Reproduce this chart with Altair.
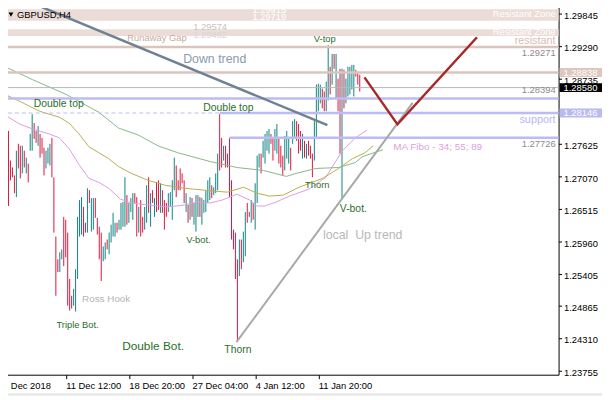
import altair as alt
import pandas as pd

# ---------------- price bars (H4) ----------------
highs = [
    1.27503, 1.28395, 1.28126, 1.27840, 1.27335, 1.27217, 1.27082, 1.27503, 1.27621, 1.27587,
    1.27587, 1.27503, 1.27385, 1.27284, 1.27789, 1.28126, 1.27974, 1.27840, 1.27924, 1.27789,
    1.27722, 1.27554, 1.27503, 1.27554, 1.27621, 1.27722, 1.27049, 1.26039, 1.25651, 1.25769,
    1.25820, 1.26375, 1.26325, 1.26106, 1.25315, 1.25029, 1.25146, 1.25483, 1.26375, 1.26661,
    1.26712, 1.26544, 1.26274, 1.26863, 1.26830, 1.26695, 1.26695, 1.26695, 1.26358, 1.26207,
    1.26106, 1.25870, 1.25938, 1.25988, 1.26106, 1.26241, 1.26443, 1.26274, 1.26274, 1.26325,
    1.26611, 1.26628, 1.27049, 1.26746, 1.26611, 1.26695, 1.26779, 1.26779, 1.26712, 1.26544,
    1.26661, 1.26375, 1.26544, 1.26914, 1.27049, 1.26779, 1.26830, 1.26695, 1.26964, 1.26998,
    1.26948, 1.26830, 1.26661, 1.26611, 1.26779, 1.26796, 1.26998, 1.27385, 1.27251, 1.26998,
    1.27200, 1.27116, 1.26998, 1.26779, 1.26577, 1.26712, 1.26695, 1.26611, 1.26746, 1.26746,
    1.26712, 1.26695, 1.26661, 1.26830, 1.26998, 1.27049, 1.26914, 1.26880, 1.27116, 1.27453,
    1.28126, 1.27722, 1.27587, 1.27587, 1.27453, 1.27722, 1.26998, 1.26156, 1.26106, 1.25651,
    1.25988, 1.25988, 1.26123, 1.26459, 1.26611, 1.26459, 1.26661, 1.26611, 1.26948, 1.27419,
    1.27453, 1.27453, 1.27671, 1.27789, 1.27840, 1.27873, 1.27789, 1.27722, 1.27873, 1.27958,
    1.27722, 1.27587, 1.27419, 1.27755, 1.27840, 1.27722, 1.27554, 1.28008, 1.28042, 1.28008,
    1.27958, 1.27840, 1.27789, 1.27671, 1.27621, 1.27671, 1.27587, 1.27453, 1.28008, 1.28631,
    1.28648, 1.28631, 1.28564, 1.28513, 1.28681, 1.29304, 1.28934, 1.29153, 1.29153, 1.29153,
    1.28732, 1.28900, 1.28900, 1.28883, 1.28732, 1.28934, 1.28934, 1.28968, 1.28968, 1.28883,
    1.28850, 1.28799,
]
lows = [
    1.27284, 1.27217, 1.27671, 1.26560, 1.26998, 1.27049, 1.26779, 1.26712, 1.27200, 1.27032,
    1.27116, 1.27217, 1.27116, 1.26964, 1.27503, 1.27503, 1.27705, 1.27638, 1.27587, 1.27385,
    1.27453, 1.27082, 1.27200, 1.27284, 1.27251, 1.27049, 1.26106, 1.25029, 1.25433, 1.25433,
    1.25651, 1.25534, 1.25685, 1.24860, 1.24776, 1.24810, 1.24860, 1.24759, 1.25315, 1.26039,
    1.26072, 1.26039, 1.26106, 1.26106, 1.26611, 1.26123, 1.26156, 1.26358, 1.26072, 1.25651,
    1.25281, 1.25618, 1.25651, 1.25820, 1.25736, 1.25938, 1.26039, 1.26039, 1.26106, 1.26156,
    1.26156, 1.26207, 1.26207, 1.26241, 1.26274, 1.26459, 1.26325, 1.26611, 1.26039, 1.26106,
    1.26039, 1.26106, 1.26156, 1.26274, 1.26443, 1.26207, 1.26611, 1.26375, 1.26459, 1.26493,
    1.26443, 1.26443, 1.26156, 1.26375, 1.26459, 1.26544, 1.26325, 1.26830, 1.26712, 1.26830,
    1.26830, 1.26948, 1.26611, 1.26459, 1.26274, 1.26325, 1.26375, 1.26241, 1.26123, 1.26375,
    1.26375, 1.26241, 1.26443, 1.26459, 1.26611, 1.26661, 1.26695, 1.26746, 1.26779, 1.26830,
    1.27166, 1.27217, 1.27335, 1.27217, 1.27217, 1.26712, 1.25988, 1.25820, 1.25315, 1.24254,
    1.25365, 1.25483, 1.25601, 1.25702, 1.26274, 1.26375, 1.26274, 1.26325, 1.26156, 1.26611,
    1.27217, 1.27116, 1.27385, 1.27284, 1.27503, 1.27453, 1.27621, 1.27335, 1.27503, 1.27453,
    1.27284, 1.27217, 1.27082, 1.27166, 1.27368, 1.27284, 1.27166, 1.27621, 1.27722, 1.27671,
    1.27453, 1.27503, 1.27368, 1.27385, 1.27368, 1.27419, 1.27368, 1.27049, 1.27335, 1.27722,
    1.28176, 1.28311, 1.28227, 1.28176, 1.28176, 1.28362, 1.28463, 1.28631, 1.28900, 1.28395,
    1.28176, 1.27453, 1.26695, 1.28227, 1.28311, 1.28429, 1.28463, 1.28547, 1.28429, 1.28766,
    1.28631, 1.28513,
]
directions = list(
    "uuuddddudd" "ududuuddud" "dduuuddddu" "uddddduuuu" "udduduuddd"
    "duuduuuudu" "uuuduuuddu" "dduudududd" "uddduuuudd" "dddududuuu"
    "duuuuuduuu" "dduddddddd" "uduudduduu" "uduuuudduu" "ddduuuduud"
    "ddududdduu" "uudduududu" "dduduuuuud" "dd"
)

# ---------------- axes ----------------
x_tick_bars = [0, 32, 64, 96, 128, 160]
x_tick_labels = ["4 Dec 2018", "11 Dec 12:00", "18 Dec 20:00", "27 Dec 04:00", "4 Jan 12:00", "11 Jan 20:00"]
y_ticks = [1.29845, 1.29290, 1.28735, 1.27625, 1.27070, 1.26515, 1.25960, 1.25405, 1.24865, 1.24310, 1.23755]

# ---------------- moving averages (MA Fibo 34 / 55 / 89) ----------------
ma34_bar = [-0.75, 3.75, 8.75, 15.25, 23.75, 28.75, 33.75, 38.75, 43.75, 48.75, 53.75, 59.75, 65.25, 73.75,
            83.75, 92.25, 98.75, 105.25, 111.25, 118.75, 125.25, 128.75, 132.75, 138.75, 145.25, 155.25,
            163.75, 172.25, 178.75, 184.75]
ma34_val = [1.28143, 1.28059, 1.27957, 1.27873, 1.27789, 1.27722, 1.27537, 1.27267, 1.27032, 1.26964,
            1.26863, 1.26678, 1.26611, 1.26577, 1.26544, 1.26577, 1.26628, 1.26611, 1.26661, 1.26762,
            1.26661, 1.26560, 1.26560, 1.26628, 1.26729, 1.26847, 1.27049, 1.27503, 1.27722, 1.27857]
ma55_bar = [-0.75, 8.75, 18.75, 28.75, 33.75, 38.75, 43.75, 48.75, 53.75, 58.75, 65.25, 73.75, 82.25,
            92.25, 102.25, 113.75, 122.25, 128.75, 135.25, 142.25, 150.25, 162.25, 170.25, 177.25,
            183.75, 187.75]
ma55_val = [1.28496, 1.28345, 1.28176, 1.28075, 1.27974, 1.27789, 1.27570, 1.27469, 1.27368, 1.27234,
            1.27116, 1.26998, 1.26914, 1.26863, 1.26830, 1.26796, 1.26880, 1.26779, 1.26729, 1.26746,
            1.26880, 1.27032, 1.27200, 1.27368, 1.27469, 1.27587]
ma89_bar = [-0.75, 15.25, 32.25, 48.75, 58.75, 68.75, 78.75, 88.75, 105.25, 118.75, 132.25, 143.75,
            148.75, 158.75, 170.25, 178.75, 182.25, 192.75]
ma89_val = [1.28968, 1.28715, 1.28463, 1.28160, 1.27890, 1.27772, 1.27587, 1.27469, 1.27318, 1.27217,
            1.27166, 1.27065, 1.27116, 1.27200, 1.27217, 1.27301, 1.27402, 1.27520]

# ---------------- drawn objects ----------------
zone_top = [1.29915, 1.29574]
zone_bottom = [1.29719, 1.29462]
resist_levels = [1.29271, 1.28838]
bid_price = 1.28580
blue_full = [1.28394]
support_level = 1.28146
support_from_bar = 110
lower_blue_level = 1.27726
lower_blue_from_bar = 115

down_trend_bar = [15.75, 164.6]
down_trend_val = [1.30011, 1.27941]
up_trend_bar = [118.5, 207.75]
up_trend_val = [1.24237, 1.28319]
forecast_bar = [183.4, 200.1, 240.4]
forecast_val = [1.28754, 1.27952, 1.29439]

tag_prices = [1.28838, 1.28580, 1.28146]
tag_colors = ["#dfc6be", "#000000", "#babaf2"]

# ---------------- layout helpers ----------------
FONT = "Liberation Sans"
XD = [-0.75, 281.75]
YD = [1.23682, 1.30011]

label_expr = " : ".join(
    f"datum.value == {v} ? '{t}'" for v, t in zip(x_tick_bars, x_tick_labels)
) + " : ''"

xaxis = alt.Axis(values=x_tick_bars, labelExpr=label_expr, title=None, grid=False,
                 labelAlign="left", labelPadding=2, tickSize=4, labelFont=FONT,
                 labelFontSize=9.5, labelColor="black", tickColor="black",
                 domainColor="black", labelFlush=False, labelOverlap=False, labelAngle=0)
yaxis = alt.Axis(orient="right", values=y_ticks, format=".5f", title=None, grid=False,
                 labelAlign="left", labelBaseline="middle", labelPadding=2, tickSize=3,
                 labelFont=FONT, labelFontSize=9.5, labelColor="black", tickColor="black",
                 domainColor="black", labelFlush=False, labelOverlap=False, labelOffset=2)


def X(f):
    return alt.X(f, type="quantitative", scale=alt.Scale(domain=XD, nice=False, zero=False), axis=xaxis)


def Y(f):
    return alt.Y(f, type="quantitative", scale=alt.Scale(domain=YD, nice=False, zero=False), axis=yaxis)


layers = []

# zones
zones = pd.DataFrame({"top": zone_top, "bot": zone_bottom})
layers.append(alt.Chart(zones).mark_rect(color="#ecdcd7").encode(
    x=alt.value(0), x2=alt.value("width"), y=Y("top"), y2=alt.Y2("bot")))

# price bars
bars = pd.DataFrame({"i": list(range(len(highs))), "high": highs, "low": lows, "dir": directions})
bar_color = {"u": "#0e8383", "d": "#dc143c"}
for key, col in bar_color.items():
    layers.append(alt.Chart(bars[bars["dir"] == key]).mark_rule(strokeWidth=1, color=col).encode(
        x=X("i"), y=Y("high"), y2=alt.Y2("low")))

# moving averages
for bx, vals, col in [(ma34_bar, ma34_val, "#df9adf"), (ma55_bar, ma55_val, "#b9ad4e"),
                      (ma89_bar, ma89_val, "#86b886")]:
    layers.append(alt.Chart(pd.DataFrame({"i": bx, "p": vals})).mark_line(
        strokeWidth=1, color=col).encode(x=X("i"), y=Y("p")))

# horizontal levels
layers.append(alt.Chart(pd.DataFrame({"p": [bid_price]})).mark_rule(color="#b8b8b8", strokeWidth=1).encode(y=Y("p")))
layers.append(alt.Chart(pd.DataFrame({"p": resist_levels})).mark_rule(color="#dcc4bc", strokeWidth=2.5).encode(y=Y("p")))
layers.append(alt.Chart(pd.DataFrame({"p": blue_full})).mark_rule(color="#bcbcf4", strokeWidth=2.5).encode(y=Y("p")))
part = pd.DataFrame({"p": [support_level, lower_blue_level],
                     "x0": [support_from_bar, lower_blue_from_bar], "x1": [XD[1], XD[1]]})
layers.append(alt.Chart(part).mark_rule(color="#bcbcf4", strokeWidth=2.5).encode(
    x=X("x0"), x2=alt.X2("x1"), y=Y("p")))
dash = pd.DataFrame({"p": [support_level], "x0": [XD[0]], "x1": [support_from_bar]})
layers.append(alt.Chart(dash).mark_rule(color="#bcbcf4", strokeWidth=1, strokeDash=[4, 3]).encode(
    x=X("x0"), x2=alt.X2("x1"), y=Y("p")))

# trend lines
layers.append(alt.Chart(pd.DataFrame({"i": down_trend_bar, "p": down_trend_val})).mark_line(
    color="#6f8194", strokeWidth=2.5).encode(x=X("i"), y=Y("p")))
layers.append(alt.Chart(pd.DataFrame({"i": up_trend_bar, "p": up_trend_val})).mark_line(
    color="#a8a8a8", strokeWidth=2).encode(x=X("i"), y=Y("p")))
layers.append(alt.Chart(pd.DataFrame({"i": forecast_bar, "p": forecast_val, "o": [0, 1, 2]})).mark_line(
    color="#a82828", strokeWidth=2.5).encode(x=X("i"), y=Y("p"), order="o:Q"))


def texts(rows, color, align="center"):
    df = pd.DataFrame(rows, columns=["t", "i", "p", "s"])
    return alt.Chart(df).mark_text(color=color, font=FONT, align=align, baseline="middle").encode(
        x=X("i"), y=Y("p"), text="t:N", size=alt.Size("s:Q", scale=None, legend=None))


GREEN = "#2b6e2b"
layers.append(texts([("Double top", 15.75, 1.28294, 10.5), ("Double top", 101.75, 1.28227, 10.5)], GREEN, "left"))
layers.append(texts([
    ("V-top", 163.25, 1.29405, 9.5), ("Thorn", 159.5, 1.26914, 9.5), ("V-bot.", 177.75, 1.26510, 10.5),
    ("V-bot.", 99.25, 1.25971, 9.5), ("Triple Bot.", 38, 1.24524, 9.5), ("Double Bot.", 76.25, 1.24170, 12),
    ("Thorn", 119.25, 1.24103, 10.5)], GREEN))
layers.append(texts([("Ross Hook", 52.5, 1.24978, 10)], "#b4b4b4"))
layers.append(texts([("Down trend", 107.5, 1.29069, 12.5)], "#8c9ab0"))
layers.append(texts([("local\u00a0 Up trend", 182.5, 1.26072, 12.5)], "#b8b8b8"))
layers.append(texts([("Runaway Gap", 78.25, 1.29422, 9.5)], "#c8aa9c"))
layers.append(texts([("MA Fibo - 34; 55; 89", 220.5, 1.27570, 10)], "#e0a0e0"))
layers.append(texts([("1.29574", 113.75, 1.29607, 9.5)], "#c4c4c4", "right"))
layers.append(texts([("1.29462", 113.75, 1.29473, 9.5)], "#d6d6d6", "right"))
layers.append(texts([("1.29915", 143.75, 1.29910, 9.5), ("1.29719", 143.75, 1.29775, 9.5),
                     ("Resistant Zone", 280.25, 1.29843, 9.5), ("Resistant Zone", 280.25, 1.29523, 9.5)],
                    "#ffffff", "right"))
layers.append(texts([("resistant", 280.25, 1.29372, 11)], "#d8bcb4", "right"))
layers.append(texts([("support", 280.25, 1.28025, 11)], "#b8b8f0", "right"))
layers.append(texts([("1.29271", 280.25, 1.29170, 9.5), ("1.28394", 280.25, 1.28530, 9.5),
                     ("1.27726", 280.25, 1.27621, 9.5)], "#8c8c8c", "right"))

# price tags on the axis
tags = pd.DataFrame({"p": tag_prices, "c": tag_colors,
                     "lo": [v - 0.00076 for v in tag_prices], "hi": [v + 0.00076 for v in tag_prices],
                     "t": [f"{v:.5f}" for v in tag_prices]})
layers.append(alt.Chart(tags).mark_rect().encode(
    x=alt.value(566), x2=alt.value(612), y=Y("lo"), y2=alt.Y2("hi"), color=alt.Color("c:N", scale=None)))
layers.append(alt.Chart(tags).mark_text(color="white", font=FONT, fontSize=9.5, align="left",
                                        baseline="middle", dy=0.5).encode(
    x=alt.value(570), y=Y("p"), text="t:N"))

# chart header and window edge
head = pd.DataFrame({"t": ["GBPUSD,H4"]})
layers.append(alt.Chart(head).mark_text(color="black", font=FONT, fontSize=9.5, align="left",
                                        baseline="middle").encode(x=alt.value(16), y=alt.value(11), text="t:N"))
layers.append(alt.Chart(head).mark_point(shape="triangle-down", filled=True, color="black", size=24,
                                         opacity=1).encode(x=alt.value(10), y=alt.value(11)))
layers.append(alt.Chart(head).mark_rule(color="#e4e4e4", strokeWidth=2).encode(
    x=alt.value(-10), x2=alt.value(620), y=alt.value(396)))

chart = alt.layer(*layers).properties(
    width=565, height=376,
    padding={"left": -7, "top": -7, "right": 44, "bottom": 24},
    autosize=alt.AutoSizeParams(type="none"),
).configure_view(stroke=None)

chart.save("out.html", embed_options={"renderer": "svg", "actions": False})
